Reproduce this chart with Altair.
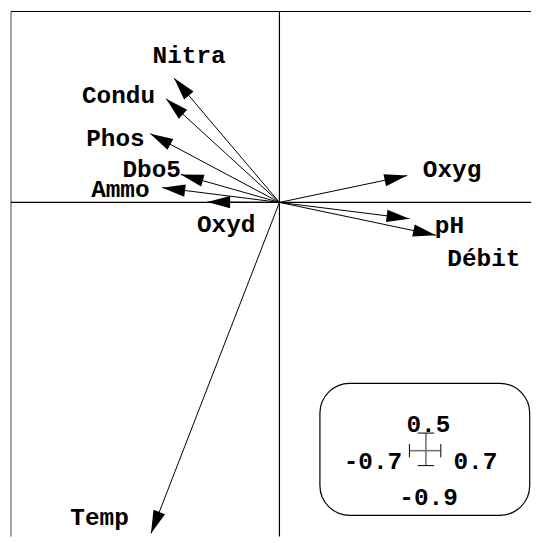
import altair as alt
import pandas as pd

# Variables (arrow tips, in data units)
names = ["Nitra", "Condu", "Phos", "Dbo5", "Ammo", "Oxyd", "Oxyg", "pH", "Débit", "Temp"]
tip_x = [-0.279, -0.300, -0.342, -0.261, -0.310, -0.191, 0.338, 0.344, 0.414, -0.340]
tip_y = [0.329, 0.274, 0.182, 0.074, 0.039, 0.001, 0.071, -0.043, -0.087, -0.876]
# Label anchor positions (alphabetic baseline, centred)
lab_x = [-0.239, -0.426, -0.434, -0.338, -0.421, -0.141, 0.457, 0.450, 0.541, -0.476]
lab_y = [0.370, 0.264, 0.150, 0.067, 0.014, -0.078, 0.068, -0.080, -0.168, -0.853]

# Scale box texts
scale_top = "0.5"
scale_left = "-0.7"
scale_right = "0.7"
scale_bottom = "-0.9"

# View extents (data units)
X_MIN, X_MAX = -0.7184, 0.6658
Y_MIN, Y_MAX = -0.8842, 0.5105
FRAME_LEFT, FRAME_TOP = -0.7105, 0.5053

W, H = 526, 530
FONT = "Liberation Mono"
FS = 24.5

df = pd.DataFrame({"name": names, "x": tip_x, "y": tip_y, "lx": lab_x, "ly": lab_y,
                   "x0": [0.0] * len(names), "y0": [0.0] * len(names)})

xs = alt.Scale(domain=[X_MIN, X_MAX], nice=False, zero=False)
ys = alt.Scale(domain=[Y_MIN, Y_MAX], nice=False, zero=False)
X = lambda f: alt.X(f, type="quantitative", scale=xs, axis=None)
Y = lambda f: alt.Y(f, type="quantitative", scale=ys, axis=None)

frame_df = pd.DataFrame({
    "x": [FRAME_LEFT, FRAME_LEFT, FRAME_LEFT, 0.0],
    "x2": [FRAME_LEFT, X_MAX, X_MAX, 0.0],
    "y": [Y_MIN, FRAME_TOP, 0.0, Y_MIN],
    "y2": [FRAME_TOP, FRAME_TOP, 0.0, FRAME_TOP],
    "c": ["#666666", "black", "black", "black"],
})
frame = alt.Chart(frame_df).mark_rule(strokeWidth=1.2).encode(
    x=X("x"), x2="x2", y=Y("y"), y2="y2",
    color=alt.Color("c:N", scale=None),
)

arrows = alt.Chart(df).mark_rule(color="black", strokeWidth=1).encode(
    x=X("x0"), y=Y("y0"), x2="x", y2="y"
)

heads = alt.Chart(df).transform_calculate(
    ang="(atan2(-datum.y, datum.x) * 180 / PI + 360) % 360"
).mark_point(
    shape="M0,0 L-1,-0.27 L-1,0.27 Z", filled=True, color="black",
    size=2116, opacity=1, strokeWidth=0
).encode(
    x=X("x"), y=Y("y"), angle=alt.Angle("ang:Q", scale=None)
)

labels = alt.Chart(df).mark_text(
    font=FONT, fontSize=FS, fontWeight="bold", align="center", baseline="alphabetic", color="black"
).encode(x=X("lx"), y=Y("ly"), text="name:N")

one = pd.DataFrame({"a": [0]})
box = alt.Chart(one).mark_rect(
    fill="white", stroke="black", strokeWidth=1.2, cornerRadius=30
).encode(x=alt.value(313.7), x2=alt.value(524.7), y=alt.value(376), y2=alt.value(508.7))

def t(txt, x, y):
    return alt.Chart(one).mark_text(
        font=FONT, fontSize=FS, fontWeight="bold", align="center", baseline="alphabetic", color="black"
    ).encode(x=alt.value(x), y=alt.value(y), text=alt.value(txt))

def seg(x1, y1, x2, y2, color="black", w=1.0):
    return alt.Chart(one).mark_rule(color=color, strokeWidth=w).encode(
        x=alt.value(x1), y=alt.value(y1), x2=alt.value(x2), y2=alt.value(y2))

cross = [
    seg(420.3, 426, 420.3, 458.7, "#777777", 1.6),
    seg(403.7, 443.7, 435.3, 443.7, "#777777", 1.6),
    seg(412, 426, 428.6, 426),
    seg(412, 458.7, 428.6, 458.7),
    seg(403.7, 437, 403.7, 450.4),
    seg(435.3, 437, 435.3, 450.4),
]

chart = alt.layer(
    frame, arrows, heads, labels, box,
    t(scale_top, 422.8, 425), t(scale_left, 367, 461.7), t(scale_right, 470, 461.7), t(scale_bottom, 423, 498),
    *cross
).properties(
    width=W, height=H, padding=0, autosize=alt.AutoSizeParams(type="none")
).configure_view(stroke=None)

chart.save("out.html", embed_options={"renderer": "svg", "actions": False})
